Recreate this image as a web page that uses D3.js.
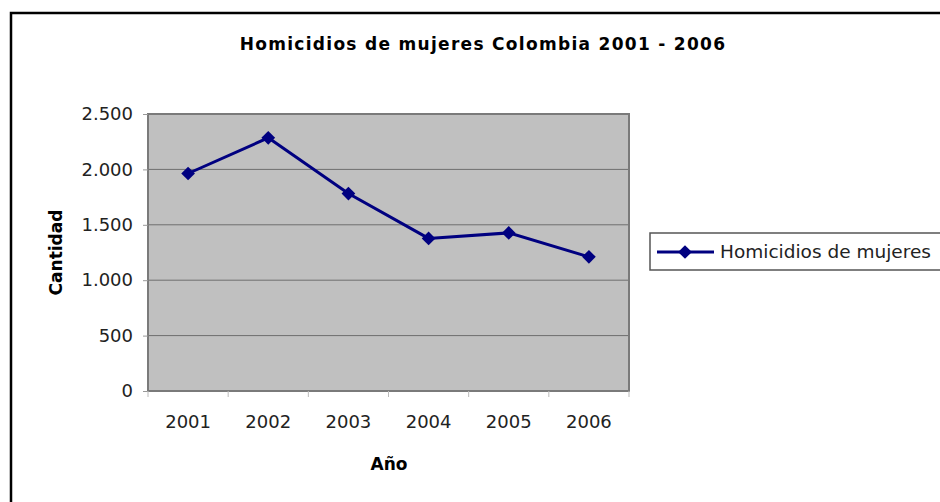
<!DOCTYPE html>
<meta charset="utf-8">
<script src="https://d3js.org/d3.v7.min.js"></script>
<style>
  body { margin: 0; background: #fff; }
  text { font-family: "DejaVu Sans", sans-serif; }
</style>
<body>
<script>

// Data.
var years = ["2001", "2002", "2003", "2004", "2005", "2006"];
var homicidios = [1963, 2285, 1782, 1377, 1427, 1211];
var yTicks = [0, 500, 1000, 1500, 2000, 2500];
var seriesName = "Homicidios de mujeres";

var W = 940, H = 502;
var margin = {top: 114, left: 148, right: 311, bottom: 111},
    width = W - margin.left - margin.right,
    height = H - margin.top - margin.bottom;

var svg = d3.select("body").append("svg")
    .attr("width", W)
    .attr("height", H);

// Outer chart frame
svg.append("rect")
    .attr("x", 11).attr("y", 13)
    .attr("width", W).attr("height", H)
    .attr("fill", "none")
    .attr("stroke", "#000")
    .attr("stroke-width", 2.5);

var g = svg.append("g")
    .attr("transform", "translate(" + margin.left + "," + margin.top + ")");

var x = d3.scaleBand().domain(years).range([0, width]);
var y = d3.scaleLinear().domain([0, 2500]).range([height, 0]);

// Plot area background
g.append("rect")
    .attr("width", width).attr("height", height)
    .attr("fill", "#c0c0c0");

// Gridlines
g.selectAll(".grid")
    .data(yTicks.filter(function(d) { return d > 0 && d < 2500; }))
  .enter().append("line")
    .attr("x1", 0).attr("x2", width)
    .attr("y1", function(d) { return y(d); })
    .attr("y2", function(d) { return y(d); })
    .attr("stroke", "#6e6e6e")
    .attr("stroke-width", 1);

// Plot border
g.append("rect")
    .attr("width", width).attr("height", height)
    .attr("fill", "none")
    .attr("stroke", "#7a7a7a")
    .attr("stroke-width", 2);

// Y axis
var yAxis = g.append("g")
    .call(d3.axisLeft(y).tickValues(yTicks).tickSize(5).tickPadding(10)
      .tickFormat(function(d) { return d3.format(",")(d).replace(/,/g, "."); }));
yAxis.select(".domain").remove();
yAxis.selectAll("line").attr("stroke", "#999");
yAxis.selectAll("text")
    .attr("font-size", "18px")
    .attr("font-family", "DejaVu Sans, sans-serif")
    .attr("fill", "#222");

// X axis ticks at band edges
var xAxis = g.append("g")
    .attr("transform", "translate(0," + height + ")")
    .call(d3.axisBottom(x).tickSize(0).tickPadding(24));
xAxis.select(".domain").remove();
xAxis.selectAll("text")
    .attr("font-size", "18px")
    .attr("font-family", "DejaVu Sans, sans-serif")
    .attr("fill", "#222");
g.selectAll(".xtick")
    .data(years.concat(["end"]))
  .enter().append("line")
    .attr("x1", function(d, i) { return i * x.bandwidth(); })
    .attr("x2", function(d, i) { return i * x.bandwidth(); })
    .attr("y1", height).attr("y2", height + 6)
    .attr("stroke", "#bbb");

// Line
var line = d3.line()
    .x(function(d, i) { return x(years[i]) + x.bandwidth() / 2; })
    .y(function(d) { return y(d); });

g.append("path")
    .datum(homicidios)
    .attr("d", line)
    .attr("fill", "none")
    .attr("stroke", "#000080")
    .attr("stroke-width", 3);

var diamond = d3.symbol().type(d3.symbolDiamond2).size(120);
g.selectAll(".pt")
    .data(homicidios)
  .enter().append("path")
    .attr("d", diamond)
    .attr("transform", function(d, i) {
      return "translate(" + (x(years[i]) + x.bandwidth() / 2) + "," + y(d) + ")";
    })
    .attr("fill", "#000080");

// Title
svg.append("text")
    .attr("x", 483).attr("y", 50)
    .attr("text-anchor", "middle")
    .attr("font-size", "17px")
    .attr("font-weight", "bold")
    .attr("letter-spacing", "1.3px")
    .text("Homicidios de mujeres Colombia 2001 - 2006");

// Axis titles
svg.append("text")
    .attr("x", 389).attr("y", 470)
    .attr("text-anchor", "middle")
    .attr("font-size", "17px")
    .attr("font-weight", "bold")
    .text("Año");

svg.append("text")
    .attr("transform", "translate(62," + (margin.top + height / 2) + ") rotate(-90)")
    .attr("text-anchor", "middle")
    .attr("font-size", "17px")
    .attr("font-weight", "bold")
    .text("Cantidad");

// Legend
var legend = svg.append("g").attr("transform", "translate(650,233)");
legend.append("rect")
    .attr("width", 300).attr("height", 37)
    .attr("fill", "#fff")
    .attr("stroke", "#555")
    .attr("stroke-width", 1.5);
legend.append("line")
    .attr("x1", 7).attr("x2", 64)
    .attr("y1", 19).attr("y2", 19)
    .attr("stroke", "#000080").attr("stroke-width", 3);
legend.append("path")
    .attr("d", diamond)
    .attr("transform", "translate(35,19)")
    .attr("fill", "#000080");
legend.append("text")
    .attr("x", 70).attr("y", 25)
    .attr("font-size", "18.5px")
    .attr("fill", "#222")
    .text(seriesName);

</script>
</body>
